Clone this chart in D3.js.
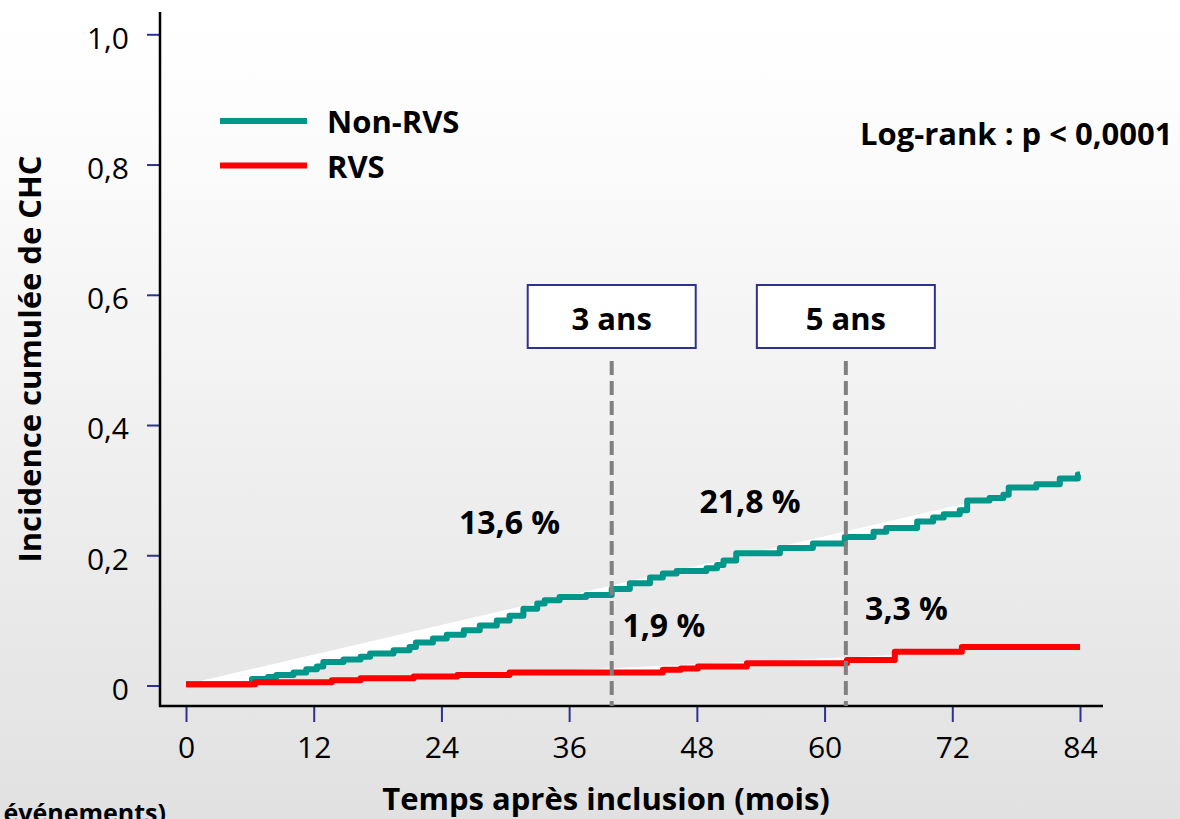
<html>

<head>
    <script src="https://cdn.jsdelivr.net/npm/d3@7"></script>
    <style>
        body {
            margin: 0;
            font-family: "Open Sans", sans-serif;
            overflow: hidden;
        }

        #Chart text {
            fill: #000000;
        }
    </style>
</head>

<body>
    <svg id="Chart"></svg>
</body>

<script>
    // months after inclusion, cumulative incidence (step after)
    let nonRvsCurve = [
        [0, 0.002], [6.2, 0.010], [7.7, 0.013], [8.5, 0.016], [10.1, 0.020], [11.3, 0.025],
        [12.3, 0.029], [12.9, 0.036], [14.8, 0.040], [16.4, 0.044], [17.3, 0.049], [19.5, 0.054],
        [21.0, 0.059], [21.6, 0.066], [23.2, 0.072], [24.5, 0.078], [26.1, 0.085], [27.6, 0.092],
        [29.2, 0.100], [30.4, 0.107], [31.7, 0.118], [33.0, 0.126], [33.7, 0.131], [35.1, 0.136],
        [37.6, 0.139], [40.0, 0.148], [41.7, 0.157], [43.6, 0.166], [44.8, 0.172], [46.1, 0.176],
        [48.9, 0.180], [49.9, 0.185], [50.5, 0.192], [51.7, 0.203], [55.8, 0.211], [58.9, 0.218],
        [61.9, 0.228], [64.6, 0.236], [65.8, 0.242], [68.7, 0.252], [70.2, 0.258], [71.2, 0.263],
        [72.7, 0.269], [73.4, 0.284], [75.5, 0.288], [76.8, 0.293], [77.3, 0.304], [79.9, 0.309],
        [82.1, 0.318], [83.8, 0.324], [84, 0.324]
    ]
    let rvsCurve = [
        [0, 0.002], [6.5, 0.005], [13.7, 0.008], [16.4, 0.011], [21.4, 0.014], [25.5, 0.016],
        [30.4, 0.020], [44.8, 0.024], [46.5, 0.026], [48.1, 0.029], [52.7, 0.034], [62.1, 0.039],
        [66.6, 0.052], [72.9, 0.059], [84, 0.059]
    ]
    // straight upper edge of the white band left above each curve
    let nonRvsEnvelope = [[0, 0.002], [76.8, 0.293]]
    let rvsEnvelope = [[31.4, 0.020], [66.6, 0.047]]

    let xTicks = [0, 12, 24, 36, 48, 60, 72, 84]
    let yTicks = [0, 0.2, 0.4, 0.6, 0.8, 1.0]
    let yTickLabels = ["0", "0,2", "0,4", "0,6", "0,8", "1,0"]

    let seriesNames = ["Non-RVS", "RVS"]
    let seriesColors = ["#00968a", "#ff0000"]

    let markerMonths = [40, 62]
    let markerLabels = ["3 ans", "5 ans"]
    let annotations = [
        { month: 30.4, value: 0.232, text: "13,6 %" },
        { month: 53.0, value: 0.265, text: "21,8 %" },
        { month: 44.9, value: 0.074, text: "1,9 %" },
        { month: 67.7, value: 0.101, text: "3,3 %" }
    ]

    function getConfig() {
        let width = 1180
        let height = 819
        let container = d3.select("#Chart")
            .attr("width", width)
            .attr("height", height)
        return { width, height, container }
    }

    function getScales() {
        let xScale = d3.scaleLinear().domain([0, 84]).range([186, 1080])
        let yScale = d3.scaleLinear().domain([0, 1]).range([685.5, 34.3])
        return { xScale, yScale }
    }

    function drawBackground(config) {
        let { container, width, height } = config
        let grad = container.append("defs").append("linearGradient")
            .attr("id", "bg").attr("x1", 0).attr("y1", 0).attr("x2", 0).attr("y2", 1)
        grad.append("stop").attr("offset", 0).attr("stop-color", "#ffffff")
        grad.append("stop").attr("offset", 0.13).attr("stop-color", "#fdfdfd")
        grad.append("stop").attr("offset", 1).attr("stop-color", "#e1e1e1")
        container.append("rect")
            .attr("width", width).attr("height", height)
            .attr("fill", "url(#bg)")
    }

    // corner points of a step-after curve between two months
    function stepPoints(data, m0, m1) {
        let pts = []
        let current = data[0][1]
        data.forEach(d => {
            if (d[0] <= m0) current = d[1]
        })
        pts.push([m0, current])
        data.forEach(d => {
            if (d[0] > m0 && d[0] <= m1) {
                pts.push([d[0], current])
                current = d[1]
                pts.push([d[0], current])
            }
        })
        pts.push([m1, current])
        return pts
    }

    function drawCurves(config, scales) {
        let { container } = config
        let { xScale, yScale } = scales
        let line = d3.line().x(d => xScale(d[0])).y(d => yScale(d[1]))

        let bands = [[nonRvsCurve, nonRvsEnvelope], [rvsCurve, rvsEnvelope]]
        bands.forEach(b => {
            let env = b[1]
            let under = stepPoints(b[0], env[0][0], env[1][0]).reverse()
            container.append("path")
                .attr("d", line(env.concat(under)) + "Z")
                .attr("fill", "#ffffff")
        })

        let stepLine = d3.line()
            .x(d => xScale(d[0]))
            .y(d => yScale(d[1]))
            .curve(d3.curveStepAfter)

        ;[nonRvsCurve, rvsCurve].forEach((c, i) => {
            container.append("path")
                .attr("d", stepLine(c))
                .attr("fill", "none")
                .attr("stroke", seriesColors[i])
                .attr("stroke-width", 6)
                .attr("stroke-linejoin", "round")
        })
    }

    function drawAxes(config, scales) {
        let { container } = config
        let { xScale, yScale } = scales
        let tickColor = "#2e3192"

        let axisY = d3.axisLeft(yScale)
            .tickValues(yTicks)
            .tickFormat((d, i) => yTickLabels[i])
            .tickSize(13)
            .tickPadding(18)
        let gy = container.append("g")
            .attr("transform", "translate(160,0)")
            .call(axisY)
        gy.select(".domain").remove()
        gy.selectAll("line").attr("stroke", tickColor).attr("stroke-width", 2)
        gy.selectAll("text")
            .attr("dy", "0.46em")
            .style("font-family", "Open Sans")
            .style("font-size", "30px")

        let axisX = d3.axisBottom(xScale)
            .tickValues(xTicks)
            .tickSize(16)
        let gx = container.append("g")
            .attr("transform", "translate(0,706)")
            .call(axisX)
        gx.select(".domain").remove()
        gx.selectAll("line").attr("stroke", tickColor).attr("stroke-width", 2)
        gx.selectAll("text")
            .attr("y", 52)
            .attr("dy", 0)
            .style("font-family", "Open Sans")
            .style("font-size", "30px")

        container.append("line")
            .attr("x1", 160).attr("x2", 160).attr("y1", 12).attr("y2", 707)
            .attr("stroke", "#000").attr("stroke-width", 2.5)
        container.append("line")
            .attr("x1", 159).attr("x2", 1103).attr("y1", 706).attr("y2", 706)
            .attr("stroke", "#000").attr("stroke-width", 2.5)

        container.append("text")
            .attr("transform", "translate(41,359) rotate(-90)")
            .attr("text-anchor", "middle")
            .style("font-weight", 700)
            .style("font-size", "31px")
            .text("Incidence cumulée de CHC")

        container.append("text")
            .attr("x", 606).attr("y", 810)
            .attr("text-anchor", "middle")
            .style("font-weight", 700)
            .style("font-size", "31px")
            .text("Temps après inclusion (mois)")

        container.append("text")
            .attr("x", 166).attr("y", 822)
            .attr("text-anchor", "end")
            .style("font-weight", 700)
            .style("font-size", "25px")
            .text("événements)")
    }

    function drawMarkers(config, scales) {
        let { container } = config
        let { xScale, yScale } = scales
        let boxWidths = [168, 178]

        markerMonths.forEach((m, i) => {
            let x = xScale(m)
            container.append("line")
                .attr("x1", x).attr("x2", x)
                .attr("y1", 361).attr("y2", 706)
                .attr("stroke", "#808080")
                .attr("stroke-width", 4)
                .attr("stroke-dasharray", "14,6")
            container.append("rect")
                .attr("x", x - boxWidths[i] / 2).attr("y", 285)
                .attr("width", boxWidths[i]).attr("height", 63)
                .attr("fill", "#ffffff")
                .attr("stroke", "#2e3192")
                .attr("stroke-width", 2)
            container.append("text")
                .attr("x", x).attr("y", 330)
                .attr("text-anchor", "middle")
                .style("font-weight", 700)
                .style("font-size", "31px")
                .text(markerLabels[i])
        })

        annotations.forEach(a => {
            container.append("text")
                .attr("x", xScale(a.month)).attr("y", yScale(a.value))
                .attr("text-anchor", "middle")
                .style("font-weight", 700)
                .style("font-size", "32px")
                .text(a.text)
        })
    }

    function drawLegend(config) {
        let { container } = config
        let rows = [121, 165.5]
        seriesNames.forEach((name, i) => {
            container.append("line")
                .attr("x1", 220).attr("x2", 307)
                .attr("y1", rows[i]).attr("y2", rows[i])
                .attr("stroke", seriesColors[i])
                .attr("stroke-width", 6)
            container.append("text")
                .attr("x", 327).attr("y", rows[i] + 12)
                .style("font-weight", 700)
                .style("font-size", "31px")
                .text(name)
        })

        container.append("text")
            .attr("x", 860).attr("y", 145)
            .style("font-weight", 700)
            .style("font-size", "31px")
            .text("Log-rank : p < 0,0001")
    }

    let config = getConfig()
    let scales = getScales()
    drawBackground(config)
    drawCurves(config, scales)
    drawAxes(config, scales)
    drawMarkers(config, scales)
    drawLegend(config)
</script>

</html>
